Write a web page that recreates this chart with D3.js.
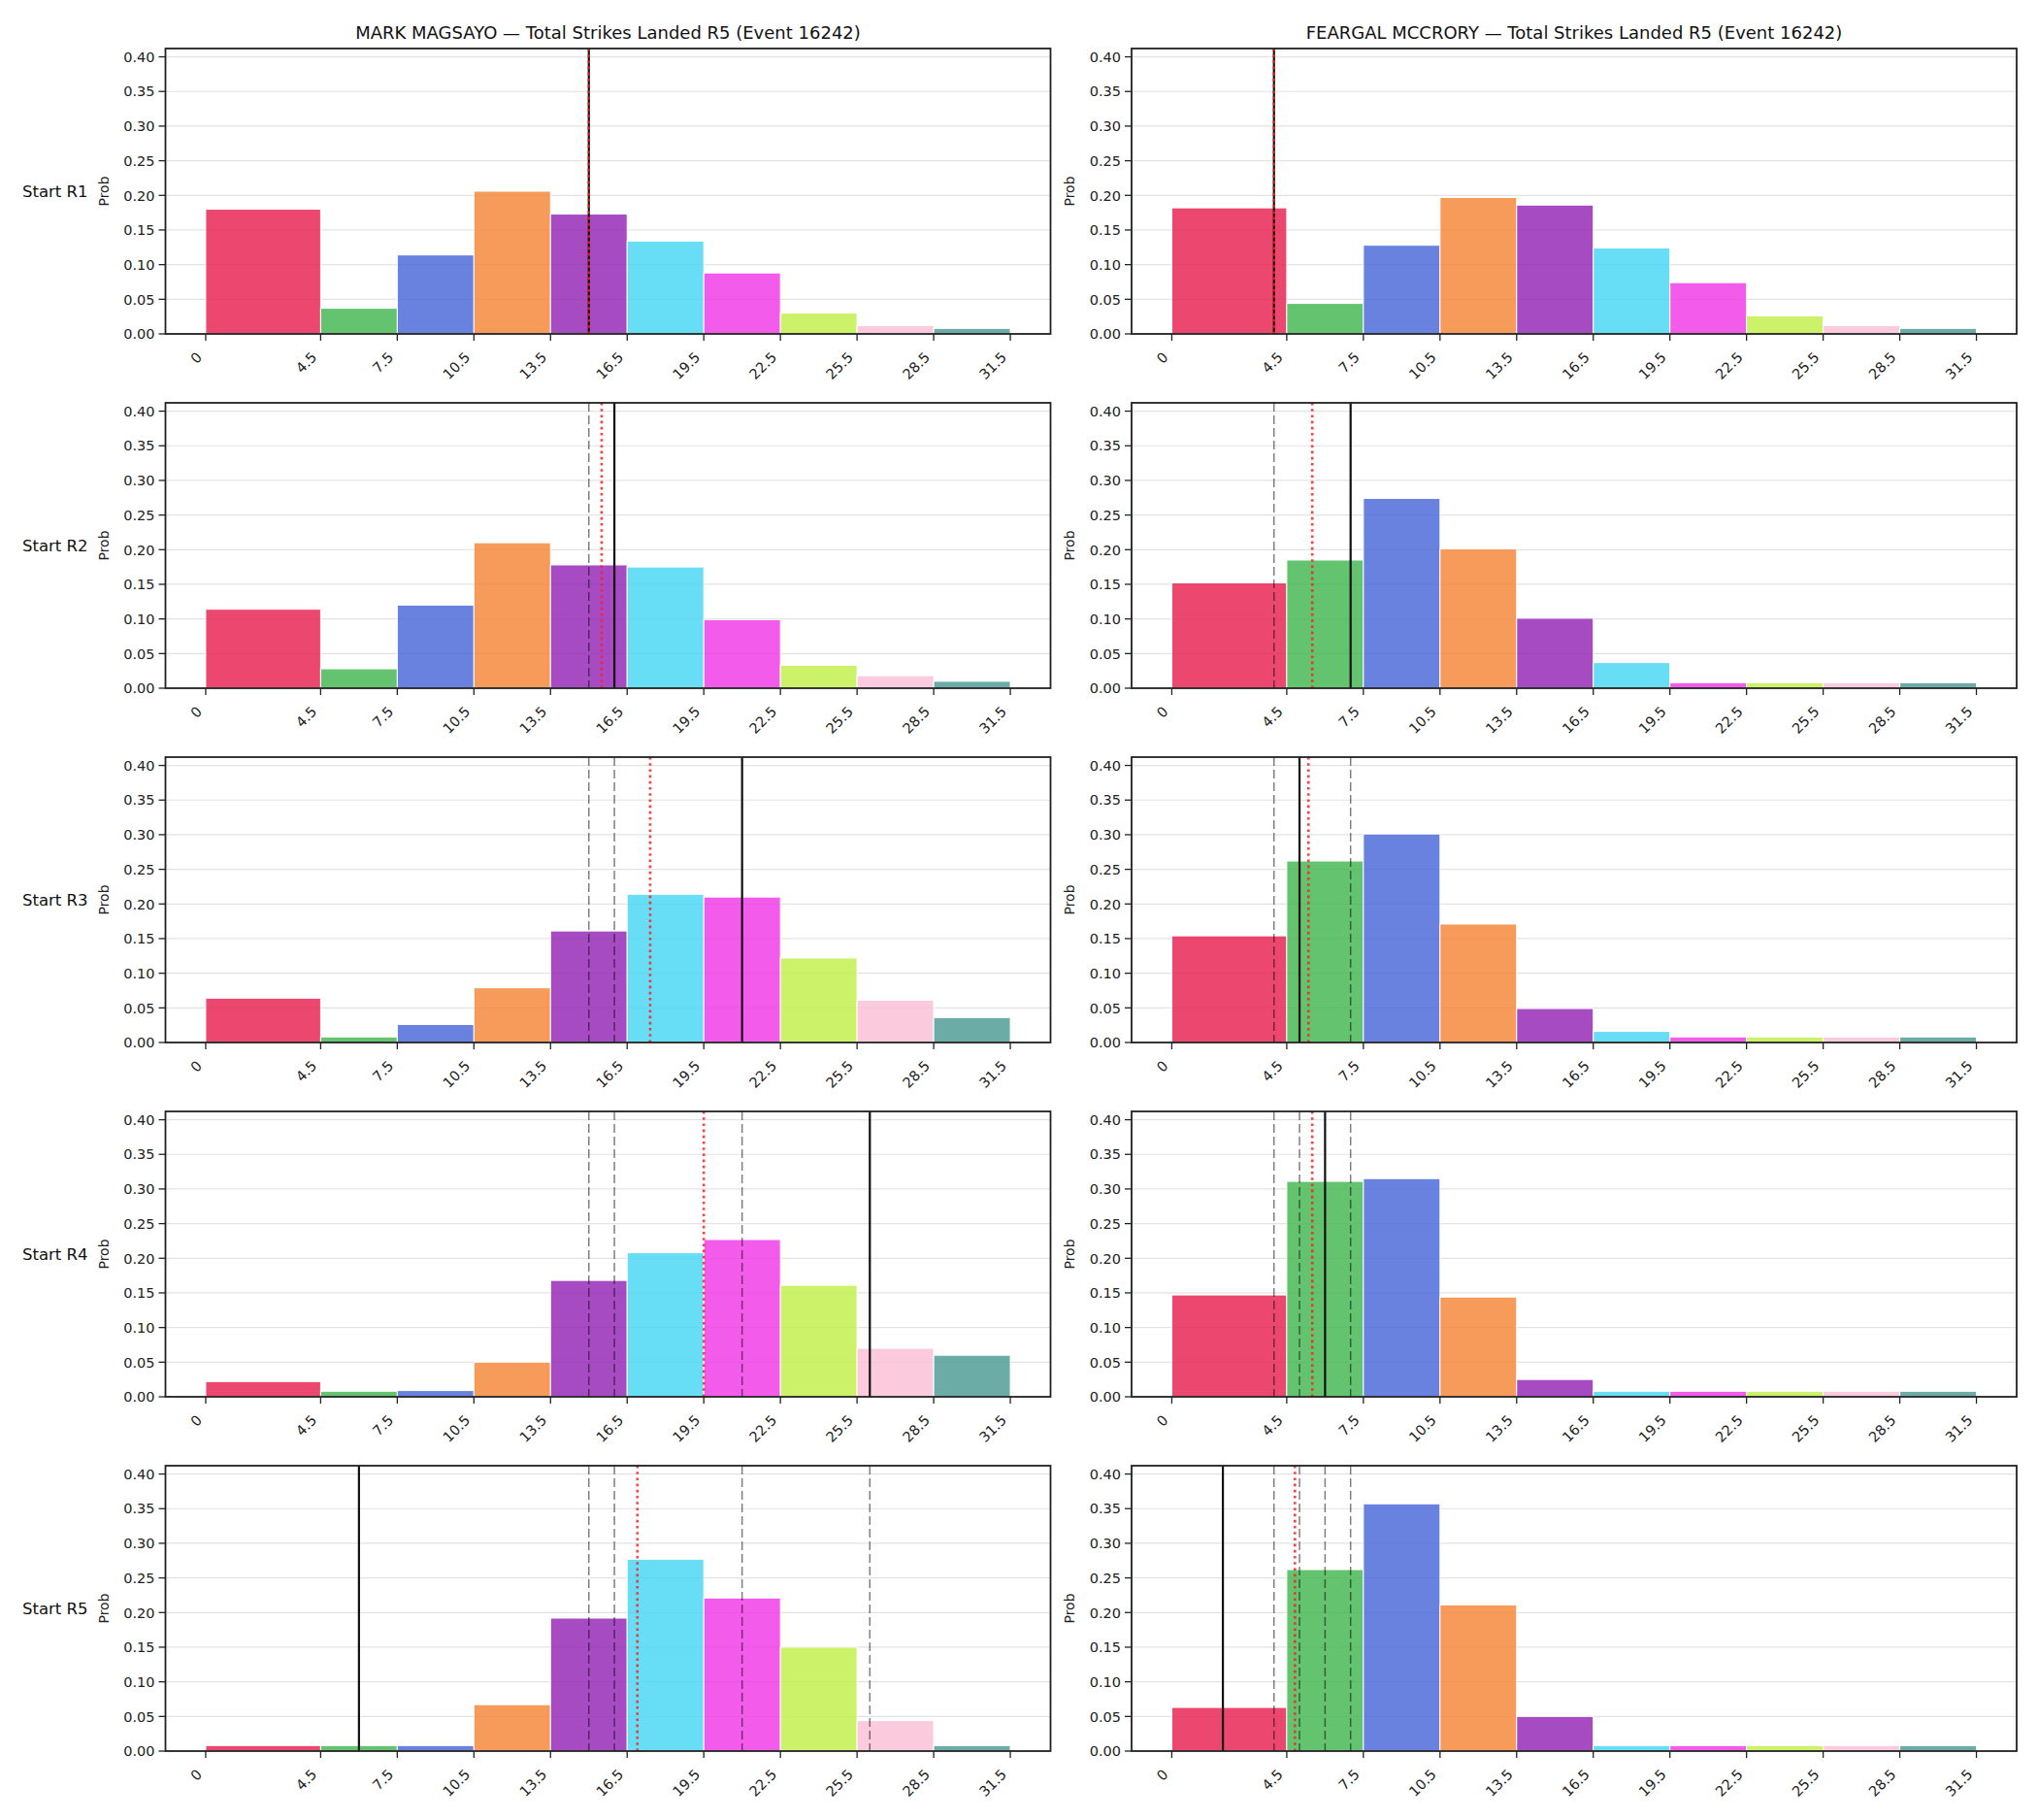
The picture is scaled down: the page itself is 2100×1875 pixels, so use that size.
<!DOCTYPE html>
<html>
<head>
<meta charset="utf-8">
<script src="https://cdn.jsdelivr.net/npm/d3@7"></script>
<style>
  body { margin: 0; background: #fff; }
  svg { display: block; font-family: "DejaVu Sans", sans-serif; }
</style>
</head>
<body>
<svg width="2100" height="1875"></svg>
<script>
const fighters = ["MARK MAGSAYO", "FEARGAL MCCRORY"];
const titleSuffix = " \u2014 Total Strikes Landed R5 (Event 16242)";
const startRounds = ["Start R1", "Start R2", "Start R3", "Start R4", "Start R5"];

const binEdges = [0, 4.5, 7.5, 10.5, 13.5, 16.5, 19.5, 22.5, 25.5, 28.5, 31.5];
const tickLabels = ["0", "4.5", "7.5", "10.5", "13.5", "16.5", "19.5", "22.5", "25.5", "28.5", "31.5"];
const yTicks = [0, 0.05, 0.10, 0.15, 0.20, 0.25, 0.30, 0.35, 0.40];
const binColors = ["#e6194b", "#3cb44b", "#4363d8", "#f58231", "#911eb4",
                   "#42d4f4", "#f032e6", "#bfef45", "#fabed4", "#469990"];

// probability per bin, one row per starting round
const magsayoProbs = [
  [0.180, 0.037, 0.114, 0.206, 0.173, 0.134, 0.088, 0.030, 0.012, 0.008],
  [0.114, 0.028, 0.120, 0.210, 0.178, 0.175, 0.099, 0.033, 0.018, 0.010],
  [0.064, 0.008, 0.026, 0.079, 0.161, 0.214, 0.210, 0.122, 0.061, 0.036],
  [0.022, 0.008, 0.009, 0.050, 0.168, 0.208, 0.227, 0.161, 0.070, 0.060],
  [0.008, 0.008, 0.008, 0.067, 0.192, 0.277, 0.221, 0.150, 0.044, 0.008]
];
const mccroryProbs = [
  [0.182, 0.044, 0.128, 0.197, 0.186, 0.124, 0.074, 0.026, 0.012, 0.008],
  [0.152, 0.185, 0.274, 0.201, 0.101, 0.037, 0.008, 0.008, 0.008, 0.008],
  [0.154, 0.262, 0.301, 0.171, 0.049, 0.016, 0.008, 0.008, 0.008, 0.008],
  [0.147, 0.311, 0.315, 0.144, 0.025, 0.008, 0.008, 0.008, 0.008, 0.008],
  [0.063, 0.262, 0.357, 0.211, 0.050, 0.008, 0.008, 0.008, 0.008, 0.008]
];
// solid line = landed so far at start of round, dotted = model mean
const magsayoActual = [15, 16, 21, 26, 6];
const magsayoMean = [15, 15.5, 17.4, 19.5, 16.9];
const mccroryActual = [4, 7, 5, 6, 2];
const mccroryMean = [4, 5.5, 5.35, 5.5, 4.82];

const panels = [
  {name: fighters[0], probs: magsayoProbs, actual: magsayoActual, mean: magsayoMean},
  {name: fighters[1], probs: mccroryProbs, actual: mccroryActual, mean: mccroryMean}
];

const svg = d3.select("svg");
const colLeft = [170.5, 1166];
const axW = 912;
const rowTop = 50, rowStep = 365, axH = 294;

const x = d3.scaleLinear().domain([-1.575, 33.075]).range([0, axW]);
const y = d3.scaleLinear().domain([0, 0.412]).range([axH, 0]);

panels.forEach((p, ci) => {
  p.probs.forEach((probs, ri) => {
    const g = svg.append("g")
      .attr("transform", `translate(${colLeft[ci]}, ${rowTop + ri * rowStep})`);

    // grid
    g.selectAll("line.grid").data(yTicks).enter().append("line")
      .attr("x1", 0).attr("x2", axW)
      .attr("y1", d => y(d)).attr("y2", d => y(d))
      .attr("stroke", "#e3e3e3").attr("stroke-width", 1.2);

    // bars
    g.selectAll("rect.bar").data(probs).enter().append("rect")
      .attr("x", (d, i) => x(binEdges[i]))
      .attr("width", (d, i) => x(binEdges[i + 1]) - x(binEdges[i]))
      .attr("y", d => y(d))
      .attr("height", d => y(0) - y(d))
      .attr("fill", (d, i) => binColors[i])
      .attr("fill-opacity", 0.8)
      .attr("stroke", "white").attr("stroke-width", 1);

    // previous rounds' values
    const prev = p.actual.slice(0, ri);
    g.selectAll("line.prev").data(prev).enter().append("line")
      .attr("x1", d => x(d)).attr("x2", d => x(d))
      .attr("y1", 0).attr("y2", axH)
      .attr("stroke", "#000").attr("stroke-opacity", 0.5)
      .attr("stroke-width", 1.5).attr("stroke-dasharray", "9,4");

    g.append("line")
      .attr("x1", x(p.actual[ri])).attr("x2", x(p.actual[ri]))
      .attr("y1", 0).attr("y2", axH)
      .attr("stroke", "#111").attr("stroke-width", 2.2);

    g.append("line")
      .attr("x1", x(p.mean[ri])).attr("x2", x(p.mean[ri]))
      .attr("y1", 0).attr("y2", axH)
      .attr("stroke", "#ff1f1f").attr("stroke-opacity", 0.85)
      .attr("stroke-width", 2.6).attr("stroke-dasharray", "2.6,3.6");

    // y axis
    const ya = g.append("g");
    ya.selectAll("line").data(yTicks).enter().append("line")
      .attr("x1", -7).attr("x2", 0)
      .attr("y1", d => y(d)).attr("y2", d => y(d))
      .attr("stroke", "#222").attr("stroke-width", 1.3);
    ya.selectAll("text").data(yTicks).enter().append("text")
      .attr("x", -11).attr("y", d => y(d)).attr("dy", "0.36em")
      .attr("text-anchor", "end").attr("font-size", 14.5).attr("fill", "#222")
      .text(d => d3.format(".2f")(d));

    // x axis
    const xa = g.append("g").attr("transform", `translate(0, ${axH})`);
    xa.selectAll("line").data(binEdges).enter().append("line")
      .attr("x1", d => x(d)).attr("x2", d => x(d))
      .attr("y1", 0).attr("y2", 7)
      .attr("stroke", "#222").attr("stroke-width", 1.3);
    xa.selectAll("text").data(binEdges).enter().append("text")
      .attr("transform", d => `translate(${x(d) - 3}, 25) rotate(-45)`)
      .attr("text-anchor", "end").attr("font-size", 14.5).attr("fill", "#222")
      .text((d, i) => tickLabels[i]);

    // frame
    g.append("rect")
      .attr("width", axW).attr("height", axH)
      .attr("fill", "none").attr("stroke", "#222").attr("stroke-width", 1.8);

    g.append("text")
      .attr("transform", `translate(-64, ${axH / 2}) rotate(-90)`)
      .attr("text-anchor", "middle").attr("dy", "0.36em")
      .attr("font-size", 14).attr("fill", "#222")
      .text("Prob");

    if (ci === 0) {
      g.append("text")
        .attr("x", -80).attr("y", axH / 2).attr("dy", "0.36em")
        .attr("text-anchor", "end").attr("font-size", 16.5).attr("fill", "#111")
        .text(startRounds[ri]);
    }
    if (ri === 0) {
      g.append("text")
        .attr("x", axW / 2).attr("y", -10)
        .attr("text-anchor", "middle").attr("font-size", 18).attr("fill", "#111")
        .text(p.name + titleSuffix);
    }
  });
});
</script>
</body>
</html>
